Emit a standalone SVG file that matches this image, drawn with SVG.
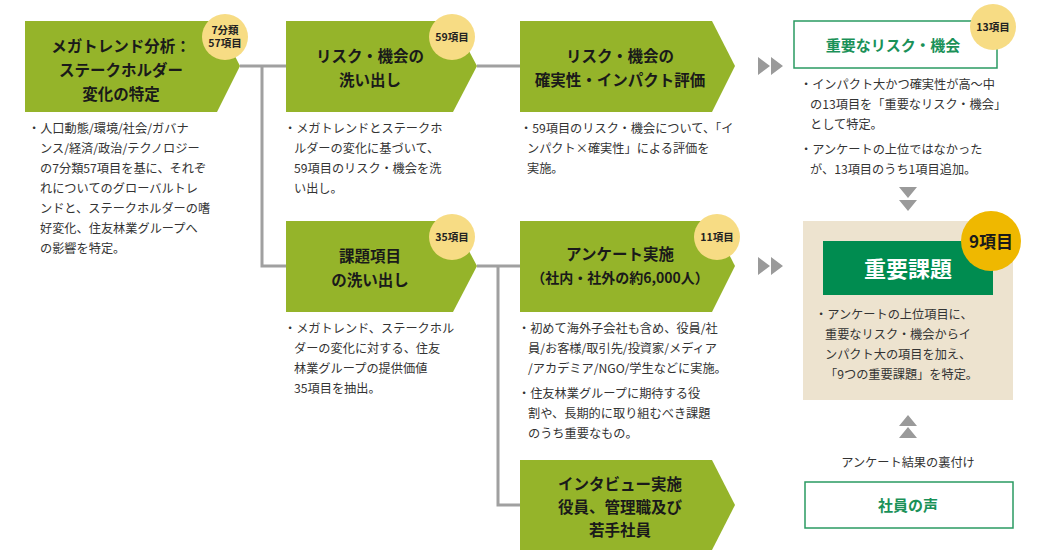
<svg xmlns="http://www.w3.org/2000/svg" width="1040" height="560" viewBox="0 0 1040 560">
<defs>
<style>
.n{fill:#95b42a}
.t{font-family:"Noto Sans CJK JP","Noto Sans",sans-serif;font-weight:bold;font-size:15.5px;fill:#1a1a1a;text-anchor:middle}
.b{font-family:"Noto Sans CJK JP","Noto Sans",sans-serif;font-size:12.2px;fill:#333}
.bd{fill:#f7dc84}
.bt{font-family:"Noto Sans CJK JP","Noto Sans",sans-serif;font-weight:bold;font-size:10.5px;fill:#222;text-anchor:middle}
.c{stroke:#a0a0a0;stroke-width:3;fill:none}
.ar{fill:#9a9a9a}
.g{font-family:"Noto Sans CJK JP","Noto Sans",sans-serif;font-weight:bold;font-size:15px;fill:#1a9158;text-anchor:middle}
</style>
</defs>
<rect width="1040" height="560" fill="#fff"/>
<g id="connectors">
<path class="c" d="M240 66H286M262 66V266H286M477 66H520M477 266H520M498 266V505H520"/>
<path class="ar" d="M758 57l12 9-12 9zM771 57l12 9-12 9zM758 257l12 9-12 9zM771 257l12 9-12 9zM899 187h18l-9 11zM899 200h18l-9 11zM899 426h18l-9-11zM899 438h18l-9-11z"/>
</g>
<g id="n1">
<polygon class="n" points="25,21 217,21 240,66 217,112 25,112"/>
<text class="t" x="121" y="52">メガトレンド分析：</text>
<text class="t" x="121" y="76">ステークホルダー</text>
<text class="t" x="121" y="100">変化の特定</text>
<circle class="bd" cx="225" cy="37" r="23"/>
<text class="bt" x="225" y="34">7分類</text><text class="bt" x="225" y="47">57項目</text>
<text class="b" x="28"><tspan x="28" y="133">・人口動態/環境/社会/ガバナ</tspan><tspan x="40" y="153">ンス/経済/政治/テクノロジー</tspan><tspan x="40" y="173">の7分類57項目を基に、それぞ</tspan><tspan x="40" y="193">れについてのグローバルトレ</tspan><tspan x="40" y="213">ンドと、ステークホルダーの嗜</tspan><tspan x="40" y="233">好変化、住友林業グループへ</tspan><tspan x="40" y="253">の影響を特定。</tspan></text>
</g>
<g id="n2">
<polygon class="n" points="286,21 453,21 477,66 453,112 286,112"/>
<text class="t" x="370" y="62">リスク・機会の</text>
<text class="t" x="370" y="86">洗い出し</text>
<circle class="bd" cx="452" cy="37" r="23"/>
<text class="bt" x="452" y="41">59項目</text>
<text class="b"><tspan x="284" y="133">・メガトレンドとステークホ</tspan><tspan x="294" y="153">ルダーの変化に基づいて、</tspan><tspan x="294" y="173">59項目のリスク・機会を洗</tspan><tspan x="294" y="193">い出し。</tspan></text>
</g>
<g id="n3">
<polygon class="n" points="520,21 712,21 735,66 712,112 520,112"/>
<text class="t" x="620" y="62">リスク・機会の</text>
<text class="t" x="620" y="86">確実性・インパクト評価</text>
<text class="b"><tspan x="520" y="133">・59項目のリスク・機会について、「イ</tspan><tspan x="527" y="153">ンパクト×確実性」による評価を</tspan><tspan x="527" y="173">実施。</tspan></text>
</g>
<g id="n4">
<polygon class="n" points="286,221 453,221 477,266 453,312 286,312"/>
<text class="t" x="370" y="262">課題項目</text>
<text class="t" x="370" y="286">の洗い出し</text>
<circle class="bd" cx="452" cy="237" r="23"/>
<text class="bt" x="452" y="241">35項目</text>
<text class="b"><tspan x="284" y="333">・メガトレンド、ステークホル</tspan><tspan x="294" y="353">ダーの変化に対する、住友</tspan><tspan x="294" y="373">林業グループの提供価値</tspan><tspan x="294" y="393">35項目を抽出。</tspan></text>
</g>
<g id="n5">
<polygon class="n" points="520,221 712,221 735,266 712,312 520,312"/>
<text class="t" x="620" y="260">アンケート実施</text>
<text class="t" x="620" y="283" style="font-size:14px">（社内・社外の約6,000人）</text>
<circle class="bd" cx="717" cy="237" r="23"/>
<text class="bt" x="717" y="241">11項目</text>
<text class="b"><tspan x="518" y="333">・初めて海外子会社も含め、役員/社</tspan><tspan x="528" y="353">員/お客様/取引先/投資家/メディア</tspan><tspan x="528" y="373">/アカデミア/NGO/学生などに実施。</tspan><tspan x="518" y="398">・住友林業グループに期待する役</tspan><tspan x="528" y="418">割や、長期的に取り組むべき課題</tspan><tspan x="528" y="438">のうち重要なもの。</tspan></text>
</g>
<g id="n6">
<polygon class="n" points="520,460 712,460 735,505 712,550 520,550"/>
<text class="t" x="620" y="490">インタビュー実施</text>
<text class="t" x="620" y="513">役員、管理職及び</text>
<text class="t" x="620" y="536">若手社員</text>
</g>
<g id="risk">
<rect x="794" y="21" width="203" height="47" fill="#fff" stroke="#2a9a62" stroke-width="1.5"/>
<text class="g" x="893" y="51">重要なリスク・機会</text>
<circle class="bd" cx="993" cy="27" r="23"/>
<text class="bt" x="993" y="31">13項目</text>
<text class="b"><tspan x="800" y="89">・インパクト大かつ確実性が高〜中</tspan><tspan x="810" y="109">の13項目を「重要なリスク・機会」</tspan><tspan x="810" y="129">として特定。</tspan><tspan x="800" y="154">・アンケートの上位ではなかった</tspan><tspan x="810" y="174">が、13項目のうち1項目追加。</tspan></text>
</g>
<g id="key">
<rect x="803" y="221" width="210" height="179" fill="#ede3cf"/>
<rect x="823" y="241" width="170" height="54" fill="#008c50"/>
<text x="908" y="277" text-anchor="middle" style="font-family:'Noto Sans CJK JP',sans-serif;font-weight:bold;font-size:22px;fill:#fff">重要課題</text>
<circle cx="991" cy="241" r="30" fill="#efb800"/>
<text x="991" y="248" text-anchor="middle" style="font-family:'Noto Sans CJK JP',sans-serif;font-weight:bold;font-size:17px;fill:#1a1a1a">9項目</text>
<text class="b"><tspan x="815" y="319">・アンケートの上位項目に、</tspan><tspan x="825" y="339">重要なリスク・機会からイ</tspan><tspan x="825" y="359">ンパクト大の項目を加え、</tspan><tspan x="825" y="379">「9つの重要課題」を特定。</tspan></text>
</g>
<g id="voice">
<text class="b" x="908" y="467" text-anchor="middle">アンケート結果の裏付け</text>
<rect x="805" y="482" width="208" height="46" fill="#fff" stroke="#2a9a62" stroke-width="1.5"/>
<text class="g" x="908" y="511">社員の声</text>
</g>
</svg>
